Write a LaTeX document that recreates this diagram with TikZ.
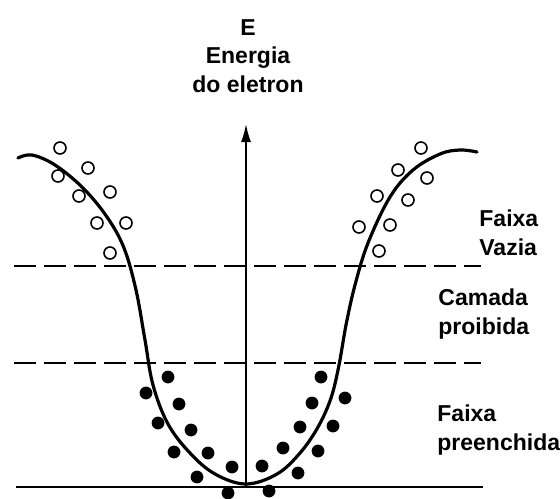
\documentclass[tikz,border=0pt]{standalone}
\usepackage{fontspec}
\setmainfont{Liberation Sans}
\usetikzlibrary{arrows.meta}

\begin{document}
\begin{tikzpicture}[
    x=0.5pt, y=-0.5pt,
    font=\fontsize{11.5}{14.25}\selectfont\bfseries,
    >={Latex[length=9pt,width=5pt]},
    every node/.style={inner sep=0pt},
    label/.style={align=left, anchor=west},
    level/.style={line width=1pt, dash pattern=on 11pt off 4pt},
    base/.style={line width=1pt},
    band/.style={line width=1.6pt, line cap=round},
    axis/.style={->, line width=0.8pt},
    empty/.style={line width=0.8pt},
    full/.style={fill=black}
]
\useasboundingbox (0,0) rectangle (560,498);

% --------------------------------------------------------------------------
% Energy axis and its title.
% --------------------------------------------------------------------------
\coordinate (origin) at (246,487);
\coordinate (top) at (246,124);
\draw[axis] (origin) -- (top);
\node[align=center] (title) at (248,56) {E\\Energia\\do eletron};

% Band limits.
\coordinate (up left) at (14,266);
\coordinate (up right) at (481,266);
\coordinate (low left) at (14,363);
\coordinate (low right) at (481,363);
\coordinate (base left) at (16,487);
\coordinate (base right) at (483,487);
\draw[level] (up left) -- (up right);
\draw[level] (low left) -- (low right);
\draw[base] (base left) -- (base right);

% Energy band curve.
\draw[band] plot[smooth, tension=0.6] coordinates {
    (18,158) (32,155) (55,165) (83,188) (107,217) (124,248) (136,290)
    (145,340) (153,385) (168,424) (190,453) (215,474) (246,484)
    (277,474) (300,453) (318,427) (331,398) (339,365) (346,325)
    (355,285) (368,243) (390,197) (413,170) (440,154) (460,150)
    (477,152)};

% Empty states (open circles) and filled states (dots).
\foreach \p in {(60,148), (88,168), (58,176), (79,196), (110,192), (97,223),
                (126,223), (110,253), (421,148), (398,170), (427,178),
                (377,196), (408,200), (359,227), (390,225), (379,251)}
    \draw[empty] \p circle[radius=3pt];
\foreach \p in {(168,377), (146,393), (179,404), (158,423), (191,430),
                (174,452), (208,453), (232,467), (197,477), (228,493),
                (321,377), (345,398), (312,403), (333,426), (300,427),
                (318,451), (283,448), (262,466), (298,473), (269,491)}
    \fill[full] \p circle[radius=3.2pt];

% Band names.
\node[label] (empty band) at (479,233) {Faixa\\Vazia};
\node[label] (gap) at (438,314) {Camada\\proibida};
\node[label] (full band) at (437,430) {Faixa\\preenchida};

\end{tikzpicture}
\end{document}
